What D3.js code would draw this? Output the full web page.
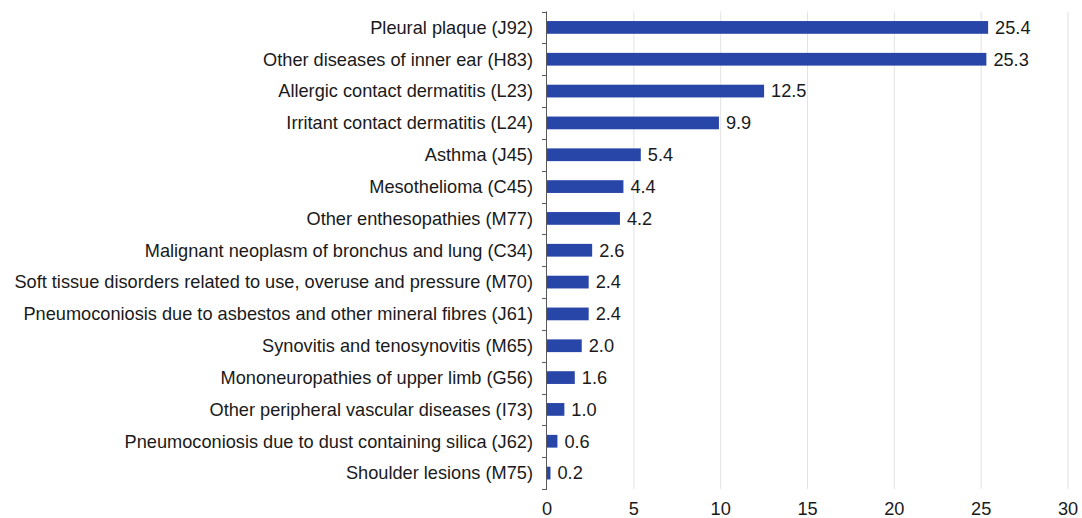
<!DOCTYPE html>
<html><head><meta charset="utf-8">
<script src="https://cdn.jsdelivr.net/npm/d3@7"></script>
<style>body{margin:0;background:#fff}svg{display:block}text{font-family:"Liberation Sans",Arial,sans-serif}</style>
</head><body><svg id="c" width="1082" height="518"></svg>
<script>
const categories = [
 "Pleural plaque (J92)",
 "Other diseases of inner ear (H83)",
 "Allergic contact dermatitis (L23)",
 "Irritant contact dermatitis (L24)",
 "Asthma (J45)",
 "Mesothelioma (C45)",
 "Other enthesopathies (M77)",
 "Malignant neoplasm of bronchus and lung (C34)",
 "Soft tissue disorders related to use, overuse and pressure (M70)",
 "Pneumoconiosis due to asbestos and other mineral fibres (J61)",
 "Synovitis and tenosynovitis (M65)",
 "Mononeuropathies of upper limb (G56)",
 "Other peripheral vascular diseases (I73)",
 "Pneumoconiosis due to dust containing silica (J62)",
 "Shoulder lesions (M75)"
];
const values = [25.4, 25.3, 12.5, 9.9, 5.4, 4.4, 4.2, 2.6, 2.4, 2.4, 2.0, 1.6, 1.0, 0.6, 0.2];
const xTicks = [0, 5, 10, 15, 20, 25, 30];

const svg = d3.select("#c");
const m = {left: 547, right: 1068, top: 11.5, bottom: 489};
const x = d3.scaleLinear().domain([0, 30]).range([m.left, m.right]);
const y = d3.scaleBand().domain(categories).range([m.top, m.bottom]).paddingInner(0.6).paddingOuter(0.3);
const yb = d3.scaleBand().domain(categories).range([m.top, m.bottom]);
const fs = 18.2;

svg.append("g").selectAll("line").data(xTicks.slice(1)).join("line")
  .attr("x1", d => x(d)).attr("x2", d => x(d))
  .attr("y1", m.top).attr("y2", m.bottom)
  .attr("stroke", "#e3e3e3").attr("stroke-width", 1);

svg.append("g").selectAll("rect").data(values).join("rect")
  .attr("x", x(0)).attr("y", (d, i) => y(categories[i]))
  .attr("width", d => x(d) - x(0)).attr("height", y.bandwidth())
  .attr("fill", "#2845a8");

svg.append("g").selectAll("text").data(values).join("text")
  .attr("x", d => x(d) + 7).attr("y", (d, i) => y(categories[i]) + y.bandwidth() / 2)
  .attr("dy", "0.35em").attr("font-size", fs).attr("fill", "#1a1a1a")
  .text(d => d.toFixed(1));

const yAxis = svg.append("g");
yAxis.append("line").attr("x1", m.left - 0.5).attr("x2", m.left - 0.5)
  .attr("y1", m.top).attr("y2", m.bottom).attr("stroke", "#595959");
const bounds = categories.map(c => yb(c)).concat([m.bottom]);
yAxis.selectAll("line.t").data(bounds).join("line").attr("class", "t")
  .attr("x1", m.left - 5).attr("x2", m.left)
  .attr("y1", d => Math.round(d) + 0.5).attr("y2", d => Math.round(d) + 0.5)
  .attr("stroke", "#595959");
yAxis.selectAll("text").data(categories).join("text")
  .attr("x", m.left - 14).attr("y", d => yb(d) + yb.bandwidth() / 2)
  .attr("dy", "0.35em").attr("text-anchor", "end").attr("font-size", fs).attr("fill", "#1a1a1a")
  .text(d => d);

svg.append("g").selectAll("text").data(xTicks).join("text")
  .attr("x", d => x(d)).attr("y", 515)
  .attr("text-anchor", "middle").attr("font-size", fs).attr("fill", "#1a1a1a")
  .text(d => d);
</script></body></html>
